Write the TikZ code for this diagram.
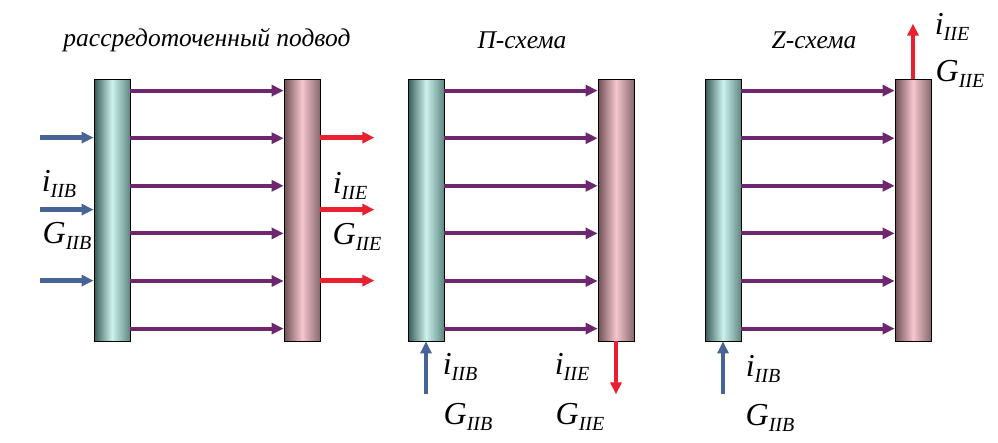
\documentclass[tikz,border=0pt]{standalone}
\usepackage{fontspec}
\setmainfont{Liberation Serif}
\usetikzlibrary{arrows.meta,positioning}

\definecolor{strela}{RGB}{110,38,110}
\definecolor{sinij}{RGB}{72,100,150}
\definecolor{krasnyj}{RGB}{232,32,48}
\definecolor{biryuzaT}{RGB}{55,90,86}
\definecolor{biryuzaS}{RGB}{205,242,236}
\definecolor{biryuzaP}{RGB}{95,135,130}
\definecolor{rozaT}{RGB}{110,80,85}
\definecolor{rozaS}{RGB}{246,198,206}
\definecolor{rozaP}{RGB}{135,105,110}

% индекс у обозначения
\newcommand{\oboz}[2]{\itshape #1\raisebox{-6pt}{\fontsize{20}{20}\selectfont\itshape #2}}

\tikzset{
  vhod/.style={draw=black, line width=0.8pt, minimum width=36pt, minimum height=262pt, inner sep=0pt,
    left color=biryuzaT, right color=biryuzaP, middle color=biryuzaS},
  vyhod/.style={draw=black, line width=0.8pt, minimum width=36pt, minimum height=262pt, inner sep=0pt,
    left color=rozaT, right color=rozaP, middle color=rozaS},
  potok/.style={draw=strela, line width=4pt, -{Triangle[length=12pt,width=11pt]}},
  podvod/.style={draw=sinij, line width=4.5pt, -{Triangle[length=12pt,width=11pt]}},
  otvod/.style={draw=krasnyj, line width=4.5pt, -{Triangle[length=12pt,width=11pt]}},
  zagolovok/.style={font=\fontsize{25.5}{25.5}\selectfont\itshape},
  oboznachenie/.style={font=\fontsize{32}{32}\selectfont, inner sep=0pt}
}

\begin{document}
\begin{tikzpicture}[x=1pt, y=-1pt]
\useasboundingbox (0,0) rectangle (998,442);
% рассредоточенный подвод
\node[zagolovok] (t1) at (207,40) {рассредоточенный подвод};
\node[vhod] (L1) at (112,210) {};
\node[vyhod] (R1) at (302,210) {};
\foreach \k in {0,...,5}
  \draw[potok] ([yshift={-(12+47.6*\k)*1pt}]L1.north east) -- ([yshift={-(12+47.6*\k)*1pt}]R1.north west);
\foreach \s in {59,131,202} {
  \draw[podvod] ([xshift=-54pt,yshift=-\s pt]L1.north west) -- ([yshift=-\s pt]L1.north west);
  \draw[otvod] ([yshift=-\s pt]R1.north east) -- ([xshift=54pt,yshift=-\s pt]R1.north east);
}
\node[oboznachenie] (i1) at (59,184) {\oboz{i}{IIB}};
\node[oboznachenie] (g1) at (67,236) {\oboz{G}{IIB}};
\node[oboznachenie] (i2) at (350,186) {\oboz{i}{IIE}};
\node[oboznachenie] (g2) at (357,237) {\oboz{G}{IIE}};

% П-схема
\node[zagolovok] (t2) at (522,40) {П-схема};
\node[vhod] (L2) at (426,210) {};
\node[vyhod] (R2) at (616,210) {};
\foreach \k in {0,...,5}
  \draw[potok] ([yshift={-(12+47.6*\k)*1pt}]L2.north east) -- ([yshift={-(12+47.6*\k)*1pt}]R2.north west);
\draw[podvod] ([yshift=-53pt]L2.south) -- (L2.south);
\draw[otvod] (R2.south) -- ([yshift=-53pt]R2.south);
\node[oboznachenie] (i3) at (460,367) {\oboz{i}{IIB}};
\node[oboznachenie] (g3) at (468,417) {\oboz{G}{IIB}};
\node[oboznachenie] (i4) at (572,367) {\oboz{i}{IIE}};
\node[oboznachenie] (g4) at (580,417) {\oboz{G}{IIE}};

% Z-схема
\node[zagolovok] (t3) at (814,40) {Z-схема};
\node[vhod] (L3) at (723,210) {};
\node[vyhod] (R3) at (913,210) {};
\foreach \k in {0,...,5}
  \draw[potok] ([yshift={-(12+47.6*\k)*1pt}]L3.north east) -- ([yshift={-(12+47.6*\k)*1pt}]R3.north west);
\draw[podvod] ([yshift=-53pt]L3.south) -- (L3.south);
\draw[otvod] (R3.north) -- ([yshift=55pt]R3.north);
\node[oboznachenie] (i5) at (763,369) {\oboz{i}{IIB}};
\node[oboznachenie] (g5) at (770,418) {\oboz{G}{IIB}};
\node[oboznachenie] (i6) at (952,27) {\oboz{i}{IIE}};
\node[oboznachenie] (g6) at (960,74) {\oboz{G}{IIE}};
\end{tikzpicture}
\end{document}
